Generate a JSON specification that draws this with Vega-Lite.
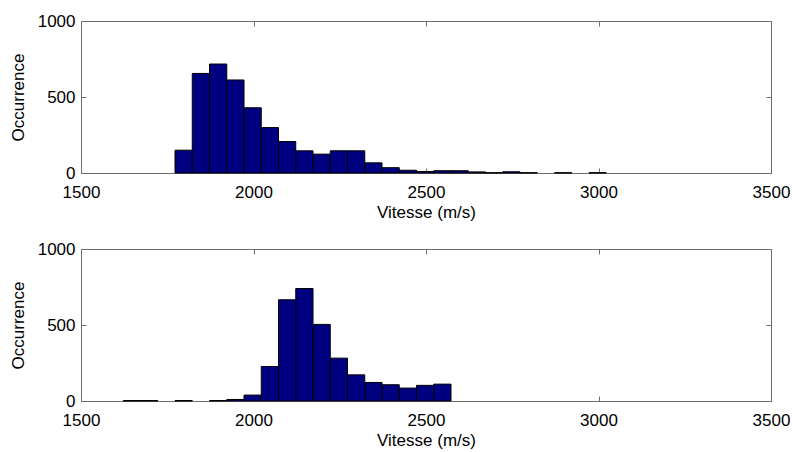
{
  "$schema": "https://vega.github.io/schema/vega-lite/v6.json",
  "autosize": {"type": "pad"},
  "padding": {"left": 8, "top": 11, "right": 0, "bottom": 0},
  "background": "white",
  "config": {
    "font": "Liberation Sans",
    "view": {"stroke": "#6e6e6e", "strokeWidth": 1},
    "axis": {
      "grid": false,
      "domain": false,
      "tickColor": "#6e6e6e",
      "tickSize": -5,
      "labelFontSize": 17,
      "labelColor": "#000000",
      "labelFont": "Liberation Sans",
      "titleFont": "Liberation Sans",
      "titleFontSize": 17,
      "titleFontWeight": "normal",
      "titleColor": "#000000",
      "labelFlush": false,
      "labelOverlap": false,
      "format": "d"
    }
  },
  "datasets": {
    "top": [
      {"lo": 1772.5, "hi": 1822.5, "count": 150},
      {"lo": 1822.5, "hi": 1872.5, "count": 655},
      {"lo": 1872.5, "hi": 1922.5, "count": 717},
      {"lo": 1922.5, "hi": 1972.5, "count": 612},
      {"lo": 1972.5, "hi": 2022.5, "count": 429},
      {"lo": 2022.5, "hi": 2072.5, "count": 299},
      {"lo": 2072.5, "hi": 2122.5, "count": 207},
      {"lo": 2122.5, "hi": 2172.5, "count": 146},
      {"lo": 2172.5, "hi": 2222.5, "count": 124},
      {"lo": 2222.5, "hi": 2272.5, "count": 146},
      {"lo": 2272.5, "hi": 2322.5, "count": 146},
      {"lo": 2322.5, "hi": 2372.5, "count": 67},
      {"lo": 2372.5, "hi": 2422.5, "count": 35},
      {"lo": 2422.5, "hi": 2472.5, "count": 18},
      {"lo": 2472.5, "hi": 2522.5, "count": 10},
      {"lo": 2522.5, "hi": 2572.5, "count": 15},
      {"lo": 2572.5, "hi": 2622.5, "count": 15},
      {"lo": 2622.5, "hi": 2672.5, "count": 7},
      {"lo": 2672.5, "hi": 2722.5, "count": 2},
      {"lo": 2722.5, "hi": 2772.5, "count": 8},
      {"lo": 2772.5, "hi": 2822.5, "count": 2},
      {"lo": 2872.5, "hi": 2922.5, "count": 2},
      {"lo": 2972.5, "hi": 3022.5, "count": 2}
    ],
    "bottom": [
      {"lo": 1622.5, "hi": 1672.5, "count": 3},
      {"lo": 1672.5, "hi": 1722.5, "count": 3},
      {"lo": 1772.5, "hi": 1822.5, "count": 3},
      {"lo": 1872.5, "hi": 1922.5, "count": 3},
      {"lo": 1922.5, "hi": 1972.5, "count": 10},
      {"lo": 1972.5, "hi": 2022.5, "count": 39},
      {"lo": 2022.5, "hi": 2072.5, "count": 227},
      {"lo": 2072.5, "hi": 2122.5, "count": 666},
      {"lo": 2122.5, "hi": 2172.5, "count": 740},
      {"lo": 2172.5, "hi": 2222.5, "count": 504},
      {"lo": 2222.5, "hi": 2272.5, "count": 282},
      {"lo": 2272.5, "hi": 2322.5, "count": 172},
      {"lo": 2322.5, "hi": 2372.5, "count": 122},
      {"lo": 2372.5, "hi": 2422.5, "count": 107},
      {"lo": 2422.5, "hi": 2472.5, "count": 85},
      {"lo": 2472.5, "hi": 2522.5, "count": 103},
      {"lo": 2522.5, "hi": 2572.5, "count": 111}
    ]
  },
  "vconcat": [
    {
      "width": 690,
      "height": 152,
      "data": {"name": "top"},
      "layer": [
        {
          "mark": {"type": "bar", "fill": "#000080", "stroke": "#000000", "strokeWidth": 1},
          "encoding": {
            "x": {"field": "lo", "type": "quantitative", "scale": {"domain": [1500, 3500], "nice": false, "zero": false},
                  "axis": {"orient": "bottom", "values": [1500, 2000, 2500, 3000, 3500], "labelPadding": 16, "title": "Vitesse (m/s)", "titlePadding": 4}},
            "x2": {"field": "hi"},
            "y": {"field": "count", "type": "quantitative", "scale": {"domain": [0, 1000], "nice": false},
                  "axis": {"orient": "left", "values": [0, 500, 1000], "labelPadding": 11, "title": "Occurrence", "titlePadding": 10}},
            "y2": {"datum": 0}
          }
        },
        {
          "mark": {"type": "bar", "opacity": 0},
          "encoding": {
            "x": {"field": "lo", "type": "quantitative",
                  "axis": {"orient": "top", "values": [1500, 2000, 2500, 3000, 3500], "labels": false, "title": null}},
            "x2": {"field": "hi"},
            "y": {"field": "count", "type": "quantitative",
                  "axis": {"orient": "right", "values": [0, 500, 1000], "labels": false, "title": null}},
            "y2": {"datum": 0}
          }
        }
      ]
    },
    {
      "width": 690,
      "height": 152,
      "data": {"name": "bottom"},
      "layer": [
        {
          "mark": {"type": "bar", "fill": "#000080", "stroke": "#000000", "strokeWidth": 1},
          "encoding": {
            "x": {"field": "lo", "type": "quantitative", "scale": {"domain": [1500, 3500], "nice": false, "zero": false},
                  "axis": {"orient": "bottom", "values": [1500, 2000, 2500, 3000, 3500], "labelPadding": 16, "title": "Vitesse (m/s)", "titlePadding": 4}},
            "x2": {"field": "hi"},
            "y": {"field": "count", "type": "quantitative", "scale": {"domain": [0, 1000], "nice": false},
                  "axis": {"orient": "left", "values": [0, 500, 1000], "labelPadding": 11, "title": "Occurrence", "titlePadding": 10}},
            "y2": {"datum": 0}
          }
        },
        {
          "mark": {"type": "bar", "opacity": 0},
          "encoding": {
            "x": {"field": "lo", "type": "quantitative",
                  "axis": {"orient": "top", "values": [1500, 2000, 2500, 3000, 3500], "labels": false, "title": null}},
            "x2": {"field": "hi"},
            "y": {"field": "count", "type": "quantitative",
                  "axis": {"orient": "right", "values": [0, 500, 1000], "labels": false, "title": null}},
            "y2": {"datum": 0}
          }
        }
      ]
    }
  ],
  "spacing": 76,
  "bounds": "flush"
}
